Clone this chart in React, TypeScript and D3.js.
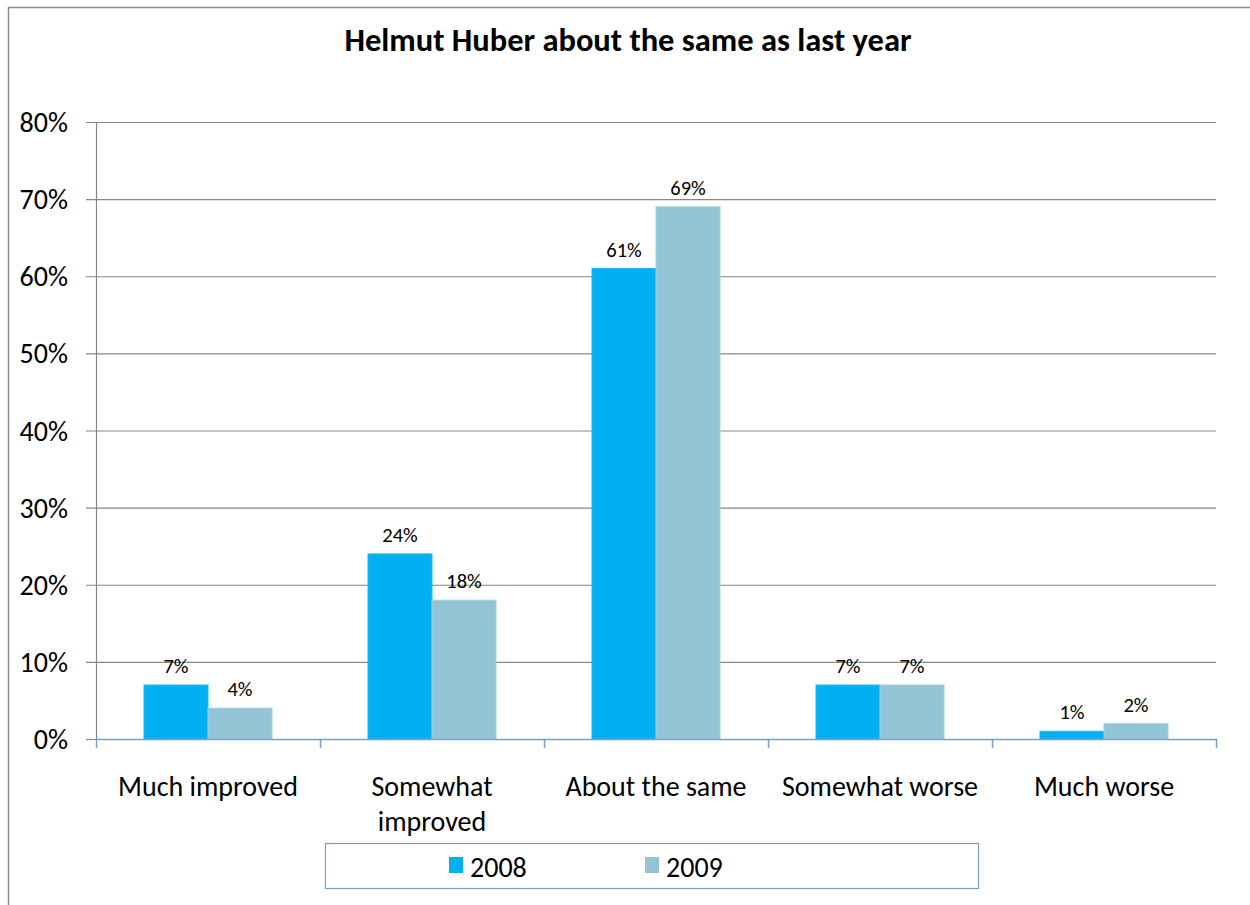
import React from "react";
import * as d3 from "d3";

const categories = [
  ["Much improved"],
  ["Somewhat", "improved"],
  ["About the same"],
  ["Somewhat worse"],
  ["Much worse"],
];
const series = ["2008", "2009"];
const values2008 = [7, 24, 61, 7, 1];
const values2009 = [4, 18, 69, 7, 2];
const yTicks = [0, 10, 20, 30, 40, 50, 60, 70, 80];
const colors = ["#00B0F0", "#93C4D6"];

const W = 1250;
const H = 905;
const FONT = "Carlito, 'Liberation Sans Narrow', 'Open Sans', sans-serif";

export default function App() {
  const left = 96;
  const right = 1216;
  const top = 122;
  const bottom = 739;

  const x0 = d3
    .scaleBand<number>()
    .domain(d3.range(categories.length))
    .range([left, right])
    .paddingInner(0)
    .paddingOuter(0);
  const bw = x0.bandwidth();
  const barW = bw / 3.5;
  const gap = (bw - 2 * barW) / 2;
  const y = d3.scaleLinear().domain([0, 80]).range([bottom, top]);

  const data = [values2008, values2009];

  return (
    <svg
      width={W}
      height={H}
      style={{ position: "absolute", left: 0, top: 0, background: "#fff" }}
      fontFamily={FONT}
    >
      <rect x={8.5} y={7.5} width={W + 10} height={H + 10} fill="#fff" stroke="#8c8c8c" strokeWidth={1.5} />

      <text x={628} y={51} textAnchor="middle" fontSize={32.5} fontWeight="bold" fill="#000">
        Helmut Huber about the same as last year
      </text>

      {/* gridlines and y axis labels */}
      {yTicks.map((t) => (
        <g key={t}>
          {t > 0 && (
            <line x1={86} x2={right} y1={y(t) + 0.5} y2={y(t) + 0.5} stroke="#878787" strokeWidth={1.2} />
          )}
          {t === 0 && <line x1={86} x2={left} y1={y(t) + 0.5} y2={y(t) + 0.5} stroke="#878787" strokeWidth={1.2} />}
          <text x={68} y={y(t) + 10} textAnchor="end" fontSize={28} fill="#000">
            {t}%
          </text>
        </g>
      ))}
      <line x1={left + 0.5} x2={left + 0.5} y1={top} y2={bottom} stroke="#878787" strokeWidth={1.2} />

      {/* bars */}
      {data.map((vals, si) =>
        vals.map((v, ci) => {
          const bx = (x0(ci) as number) + gap + si * barW;
          return (
            <g key={`${si}-${ci}`}>
              <rect
                x={bx}
                y={y(v)}
                width={barW}
                height={bottom - y(v)}
                fill={colors[si]}
                stroke={si === 0 ? "#20baf2" : "#a6d0de"}
                strokeWidth={1}
              />
              <text x={bx + barW / 2} y={y(v) - 12} textAnchor="middle" fontSize={20.5} fill="#000">
                {v}%
              </text>
            </g>
          );
        })
      )}

      {/* category axis */}
      <line x1={left} x2={right + 1} y1={bottom + 0.5} y2={bottom + 0.5} stroke="#7A9CCB" strokeWidth={1.5} />
      {d3.range(categories.length + 1).map((i) => {
        const tx = left + i * bw + 0.5;
        return <line key={i} x1={tx} x2={tx} y1={bottom} y2={bottom + 9} stroke="#7A9CCB" strokeWidth={1.5} />;
      })}
      {categories.map((lines, ci) => (
        <text key={ci} textAnchor="middle" fontSize={28} fill="#000">
          {lines.map((l, li) => (
            <tspan key={li} x={(x0(ci) as number) + bw / 2} y={796 + li * 35}>
              {l}
            </tspan>
          ))}
        </text>
      ))}

      {/* legend */}
      <rect x={325.5} y={843.5} width={653} height={45} fill="#fff" stroke="#7A9CCB" strokeWidth={1.2} />
      {series.map((s, i) => {
        const lx = 449 + i * 196;
        return (
          <g key={s}>
            <rect x={lx} y={857} width={14} height={16} fill={colors[i]} />
            <text x={lx + 21} y={877} fontSize={28} fill="#000">
              {s}
            </text>
          </g>
        );
      })}
    </svg>
  );
}
